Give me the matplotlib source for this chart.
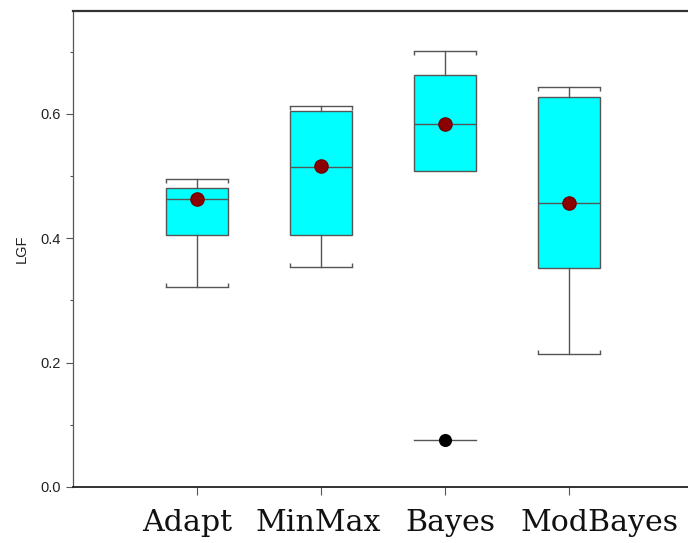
import matplotlib
matplotlib.use('Agg')
import numpy as np
import matplotlib.pyplot as plt
from matplotlib.transforms import ScaledTranslation

# data
labels = ['Adapt', 'MinMax', 'Bayes', 'ModBayes']
q1 = [0.405, 0.406, 0.509, 0.352]
med = [0.463, 0.514, 0.584, 0.457]
q3 = [0.481, 0.605, 0.662, 0.627]
whis_lo = [0.321, 0.354, 0.0756, 0.214]
whis_hi = [0.495, 0.613, 0.702, 0.643]
means = [0.464, 0.516, 0.584, 0.457]
fliers = [[], [], [0.0756], []]

# Bayes: the lower cap sits at the outlier, without a whisker line
no_low_whisker = [2]

fig = plt.figure(figsize=(6.88, 5.43), dpi=100)
ax = fig.add_axes([73/688, 56/543, 1 - 73/688, (487 - 11)/543])

stats = []
for i in range(len(labels)):
    stats.append(dict(label=labels[i], q1=q1[i], med=med[i], q3=q3[i],
                      whislo=whis_lo[i], whishi=whis_hi[i], mean=means[i],
                      fliers=np.array(fliers[i])))

pos = np.arange(1, len(labels) + 1)
grey = '#555555'
res = ax.bxp(stats, positions=pos, widths=0.5, capwidths=0.5,
             showmeans=True, patch_artist=True,
             boxprops=dict(facecolor='#00ffff', edgecolor=grey, linewidth=1),
             medianprops=dict(color=grey, linewidth=1),
             whiskerprops=dict(color=grey, linewidth=1),
             capprops=dict(color=grey, linewidth=1),
             meanprops=dict(marker='o', markerfacecolor='#8b0000',
                            markeredgecolor='#6e0000', markersize=9.5),
             flierprops=dict(marker='o', markerfacecolor='black',
                             markeredgecolor='black', markersize=8.4))

# small bracket ends on the caps: up on the lower cap, down on the upper one
for i in range(len(labels)):
    lo_cap, hi_cap = res['caps'][2*i], res['caps'][2*i + 1]
    hi_cap.set_marker(3)
    hi_cap.set_markersize(3)
    hi_cap.set_markeredgecolor(grey)
    if i not in no_low_whisker:
        lo_cap.set_marker(2)
        lo_cap.set_markersize(3)
        lo_cap.set_markeredgecolor(grey)
for i in no_low_whisker:
    res['whiskers'][2*i].set_visible(False)

ax.set_xlim(0, (688 - 73)/124)
ax.set_ylim(0, (487 - 11)/621.7)

ax.set_yticks([0.0, 0.2, 0.4, 0.6])
ax.set_yticklabels(['0.0', '0.2', '0.4', '0.6'], family='Liberation Sans', fontsize=10.5, color='#222222')
ax.set_yticks([0.1, 0.3, 0.5, 0.7], minor=True)
ax.tick_params(axis='y', which='major', length=5, width=0.8, color=grey, pad=4)
ax.tick_params(axis='y', which='minor', length=2.5, width=0.8, color=grey)

ax.set_xticks(pos)
ax.set_xticklabels(labels, family='DejaVu Serif', fontsize=21.6, color='#111111')
ax.tick_params(axis='x', which='major', length=6, width=0.8, color=grey, pad=10)

# the labels in the picture are not centred on their ticks
shift_px = [-10.3, -3, 5, 30.5]
for lab, dx in zip(ax.get_xticklabels(), shift_px):
    lab.set_transform(lab.get_transform() + ScaledTranslation(dx/100, 0, fig.dpi_scale_trans))

ax.set_ylabel('LGF', family='Liberation Sans', fontsize=10.5, color='#222222', labelpad=8)

ax.spines['right'].set_visible(False)
ax.spines['top'].set_color('#333333')
ax.spines['top'].set_linewidth(1.6)
ax.spines['left'].set_color(grey)
ax.spines['left'].set_linewidth(0.9)
ax.spines['bottom'].set_color('#222222')
ax.spines['bottom'].set_linewidth(1.3)

fig.savefig('out.png', dpi=100)
